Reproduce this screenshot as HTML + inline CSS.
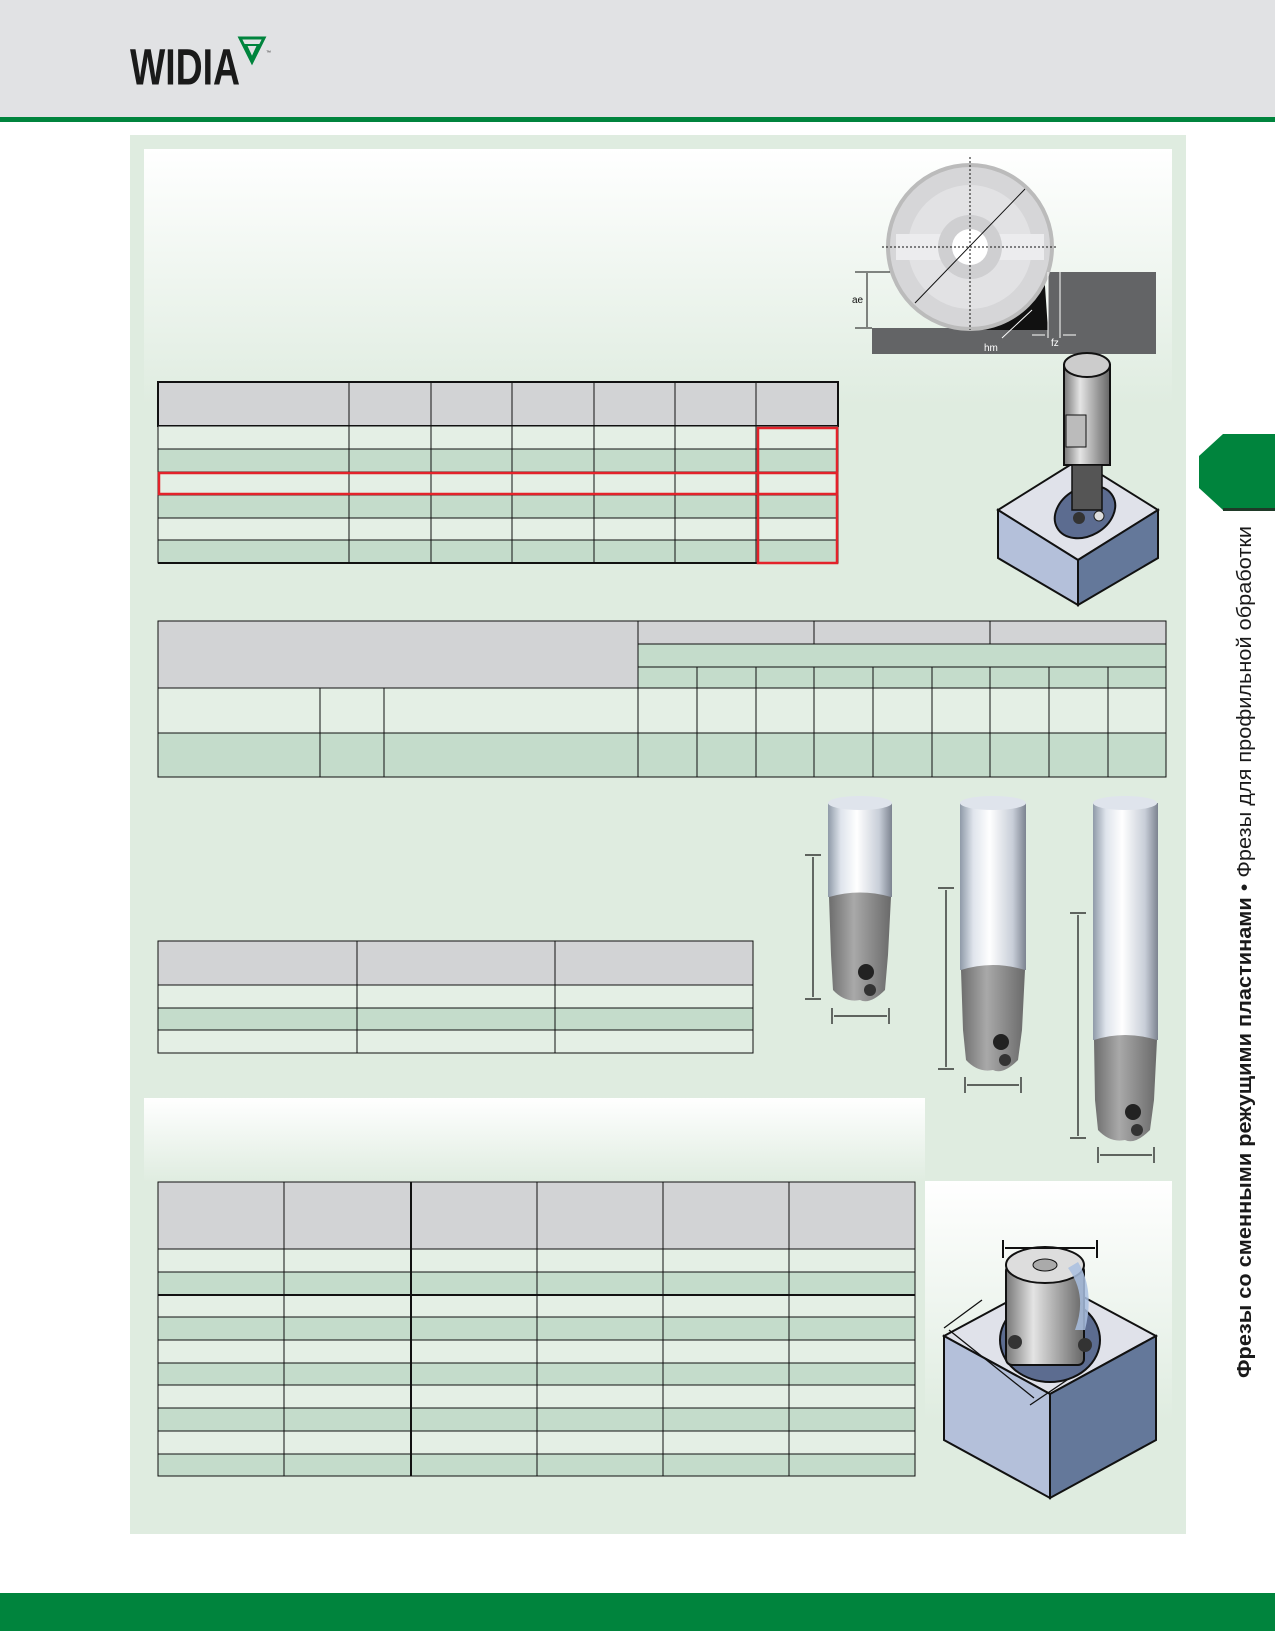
<!DOCTYPE html>
<html><head><meta charset="utf-8"><style>
html,body{margin:0;padding:0;background:#fff;}
svg{display:block;font-family:"Liberation Sans",sans-serif;}
</style></head><body>
<svg width="1275" height="1631" viewBox="0 0 1275 1631" xmlns="http://www.w3.org/2000/svg">
<defs>
<linearGradient id="wg" x1="0" y1="0" x2="0" y2="1"><stop offset="0" stop-color="#ffffff"/><stop offset="1" stop-color="#dfece0"/></linearGradient>
<linearGradient id="shank" x1="0" y1="0" x2="1" y2="0"><stop offset="0" stop-color="#8f9aa8"/><stop offset="0.2" stop-color="#dfe4ec"/><stop offset="0.45" stop-color="#ffffff"/><stop offset="0.8" stop-color="#c8ced8"/><stop offset="1" stop-color="#7c8390"/></linearGradient>
<linearGradient id="head" x1="0" y1="0" x2="1" y2="0"><stop offset="0" stop-color="#6d6d6d"/><stop offset="0.4" stop-color="#a9a9a9"/><stop offset="1" stop-color="#6a6a6a"/></linearGradient>
<linearGradient id="cyl" x1="0" y1="0" x2="1" y2="0"><stop offset="0" stop-color="#777"/><stop offset="0.35" stop-color="#e4e4e4"/><stop offset="1" stop-color="#666"/></linearGradient>
</defs>
<!-- header -->
<rect x="0" y="0" width="1275" height="118" fill="#e1e2e4"/>
<rect x="0" y="117" width="1275" height="5" fill="#00843d"/>
<text x="130" y="84" font-size="46" font-weight="bold" fill="#1a1a1a" textLength="110" lengthAdjust="spacingAndGlyphs" transform="translate(0,-8) scale(1,1.1)">WIDIA</text>
<polygon points="240,38 264,38 252,62" fill="none" stroke="#00843d" stroke-width="3"/>
<polygon points="246,45 258,45 252,58" fill="none" stroke="#00843d" stroke-width="2"/>
<text x="266" y="54" font-size="5" fill="#333">™</text>
<!-- main panel -->
<rect x="130" y="135" width="1056" height="1399" fill="#dfece0"/>
<rect x="144" y="149" width="1028" height="256" fill="url(#wg)"/>
<rect x="144" y="1098" width="781" height="84" fill="url(#wg)"/>
<rect x="925" y="1181" width="247" height="240" fill="url(#wg)"/>
<!-- bottom band -->
<rect x="0" y="1593" width="1275" height="38" fill="#00843d"/>
<!-- side tab -->
<path d="M1223,434 L1275,434 L1275,510 L1223,510 L1199,488 L1199,456 Z" fill="#00843d"/>
<rect x="1223" y="508" width="52" height="3" fill="#1f3a28"/>
<text transform="translate(1251,1378) rotate(-90)" font-size="20.5" fill="#1a1a1a" textLength="852" lengthAdjust="spacingAndGlyphs"><tspan font-weight="bold">Фрезы со сменными режущими пластинами</tspan> • Фрезы для профильной обработки</text>

<!-- disc diagram -->
<rect x="872" y="328" width="284" height="26" fill="#636466"/>
<rect x="1048" y="272" width="108" height="82" fill="#636466"/>
<path d="M1044,272 A82,82 0 0 1 976,330 L1048,330 Z" fill="#111"/>
<circle cx="970" cy="247" r="82" fill="#d6d6d8" stroke="#bbb" stroke-width="4"/>
<circle cx="970" cy="247" r="62" fill="#e2e2e4"/>
<rect x="896" y="234" width="148" height="26" fill="#ececee"/>
<circle cx="970" cy="247" r="32" fill="#cfcfd1"/>
<circle cx="970" cy="247" r="18" fill="#fff"/>
<line x1="970" y1="157" x2="970" y2="330" stroke="#111" stroke-dasharray="2,2"/>
<line x1="882" y1="247" x2="1058" y2="247" stroke="#111" stroke-dasharray="2,2"/>
<line x1="915" y1="303" x2="1025" y2="189" stroke="#111"/>
<line x1="855" y1="272" x2="890" y2="272" stroke="#111"/><line x1="855" y1="328" x2="872" y2="328" stroke="#111"/>
<line x1="867" y1="273" x2="867" y2="327" stroke="#111"/>
<text x="852" y="303" font-size="10" fill="#111">ae</text>
<line x1="1048" y1="272" x2="1048" y2="338" stroke="#fff"/><line x1="1060" y1="272" x2="1060" y2="338" stroke="#fff"/>
<line x1="1032" y1="335" x2="1045" y2="335" stroke="#fff"/><line x1="1063" y1="335" x2="1076" y2="335" stroke="#fff"/>
<text x="1051" y="346" font-size="10" fill="#fff">fz</text>
<line x1="1002" y1="338" x2="1032" y2="310" stroke="#fff"/>
<text x="984" y="351" font-size="10" fill="#fff">hm</text>

<!-- box 1 -->
<polygon points="998,510 1078,460 1158,510 1078,560" fill="#e0e2ea" stroke="#111" stroke-width="2"/>
<polygon points="998,510 1078,560 1078,605 998,558" fill="#b4c0da" stroke="#111" stroke-width="2"/>
<polygon points="1078,560 1158,510 1158,558 1078,605" fill="#64789a" stroke="#111" stroke-width="2"/>
<ellipse cx="1085" cy="512" rx="32" ry="24" transform="rotate(-30 1085 512)" fill="#5c6c90" stroke="#111" stroke-width="2"/>
<rect x="1064" y="365" width="46" height="100" fill="url(#cyl)" stroke="#111" stroke-width="2"/>
<rect x="1072" y="465" width="30" height="45" fill="#555" stroke="#111" stroke-width="1.5"/>
<ellipse cx="1087" cy="365" rx="23" ry="12" fill="#ccc" stroke="#111" stroke-width="2"/>
<rect x="1066" y="415" width="20" height="32" fill="#bbb" stroke="#111"/>
<circle cx="1079" cy="518" r="6" fill="#333"/><circle cx="1099" cy="516" r="5" fill="#ddd" stroke="#222"/>

<!-- table 1 -->
<g stroke="#111" stroke-width="1">
<rect x="158" y="382" width="680" height="44" fill="#d2d3d5" stroke-width="2"/>
<rect x="158" y="426" width="680" height="23" fill="#e4efe5"/>
<rect x="158" y="449" width="680" height="23" fill="#c4dccb"/>
<rect x="158" y="472" width="680" height="23" fill="#e4efe5"/>
<rect x="158" y="495" width="680" height="23" fill="#c4dccb"/>
<rect x="158" y="518" width="680" height="22" fill="#e4efe5"/>
<rect x="158" y="540" width="680" height="23" fill="#c4dccb"/>
<path d="M349,382V563M431,382V563M512,382V563M594,382V563M675,382V563M756,382V563" fill="none"/>
<line x1="158" y1="563" x2="838" y2="563" stroke-width="2"/>
</g>
<rect x="758" y="428" width="79" height="135" fill="none" stroke="#e3222a" stroke-width="2.5"/>
<rect x="159" y="473" width="678" height="21" fill="none" stroke="#e3222a" stroke-width="2.5"/>

<!-- table 2 -->
<g stroke="#111" stroke-width="1">
<rect x="158" y="621" width="480" height="67" fill="#d2d3d5"/>
<rect x="638" y="621" width="528" height="23" fill="#d2d3d5"/>
<rect x="638" y="644" width="528" height="23" fill="#c4dccb"/>
<rect x="638" y="667" width="528" height="21" fill="#c4dccb"/>
<rect x="158" y="688" width="1008" height="45" fill="#e4efe5"/>
<rect x="158" y="733" width="1008" height="44" fill="#c4dccb"/>
<path d="M814,621V644M990,621V644M638,688V777M697,667V777M756,667V777M814,667V777M873,667V777M932,667V777M990,667V777M1049,667V777M1108,667V777M320,688V777M384,688V777" fill="none"/>
</g>

<!-- end mills -->
<g>
<rect x="828" y="803" width="64" height="94" fill="url(#shank)"/>
<ellipse cx="860" cy="803" rx="32" ry="7" fill="#dfe4ec"/>
<path d="M829,897 Q860,888 891,897 L888,955 L885,990 Q870,1005 860,1000 Q845,1003 833,990 L831,955 Z" fill="url(#head)"/>
<circle cx="866" cy="972" r="8" fill="#222"/><circle cx="870" cy="990" r="6" fill="#333"/>
<rect x="960" y="803" width="66" height="167" fill="url(#shank)"/>
<ellipse cx="993" cy="803" rx="33" ry="7" fill="#dfe4ec"/>
<path d="M961,970 Q993,960 1025,970 L1022,1030 L1018,1060 Q1003,1075 993,1070 Q978,1073 966,1060 L963,1030 Z" fill="url(#head)"/>
<circle cx="1001" cy="1042" r="8" fill="#222"/><circle cx="1005" cy="1060" r="6" fill="#333"/>
<rect x="1093" y="803" width="65" height="237" fill="url(#shank)"/>
<ellipse cx="1125" cy="803" rx="32" ry="7" fill="#dfe4ec"/>
<path d="M1094,1040 Q1125,1030 1157,1040 L1154,1100 L1150,1130 Q1135,1145 1125,1140 Q1110,1143 1098,1130 L1095,1100 Z" fill="url(#head)"/>
<circle cx="1133" cy="1112" r="8" fill="#222"/><circle cx="1137" cy="1130" r="6" fill="#333"/>
</g>
<g stroke="#111" stroke-width="1.2" fill="#111">
<path d="M805,855H821M805,999H821M813,857V997M832,1008V1024M889,1008V1024M834,1016H887" fill="none"/>
<path d="M938,888H954M938,1069H954M946,890V1067M965,1077V1093M1021,1077V1093M967,1085H1019" fill="none"/>
<path d="M1070,913H1086M1070,1138H1086M1078,915V1136M1098,1147V1163M1154,1147V1163M1100,1155H1152" fill="none"/>
</g>

<!-- table 3 -->
<g stroke="#111" stroke-width="1">
<rect x="158" y="941" width="595" height="44" fill="#d2d3d5"/>
<rect x="158" y="985" width="595" height="23" fill="#e4efe5"/>
<rect x="158" y="1008" width="595" height="22" fill="#c4dccb"/>
<rect x="158" y="1030" width="595" height="23" fill="#e4efe5"/>
<path d="M357,941V1053M555,941V1053" fill="none"/>
</g>

<!-- table 4 -->
<g stroke="#111" stroke-width="1">
<rect x="158" y="1182" width="757" height="67" fill="#d2d3d5"/>
<rect x="158" y="1249" width="757" height="23" fill="#e4efe5"/>
<rect x="158" y="1272" width="757" height="23" fill="#c4dccb"/>
<rect x="158" y="1295" width="757" height="22" fill="#e4efe5"/>
<rect x="158" y="1317" width="757" height="23" fill="#c4dccb"/>
<rect x="158" y="1340" width="757" height="23" fill="#e4efe5"/>
<rect x="158" y="1363" width="757" height="22" fill="#c4dccb"/>
<rect x="158" y="1385" width="757" height="23" fill="#e4efe5"/>
<rect x="158" y="1408" width="757" height="23" fill="#c4dccb"/>
<rect x="158" y="1431" width="757" height="23" fill="#e4efe5"/>
<rect x="158" y="1454" width="757" height="22" fill="#c4dccb"/>
<path d="M284,1182V1476M537,1182V1476M663,1182V1476M789,1182V1476" fill="none"/>
<path d="M411,1182V1476" fill="none" stroke-width="2"/>
<line x1="158" y1="1295" x2="915" y2="1295" stroke-width="2"/>
</g>

<!-- box 2 -->
<polygon points="944,1336 1050,1279 1156,1336 1050,1394" fill="#e0e2ea" stroke="#111" stroke-width="2"/>
<polygon points="944,1336 1050,1394 1050,1498 944,1440" fill="#b4c0da" stroke="#111" stroke-width="2"/>
<polygon points="1050,1394 1156,1336 1156,1440 1050,1498" fill="#64789a" stroke="#111" stroke-width="2"/>
<ellipse cx="1050" cy="1340" rx="50" ry="42" fill="#5c6c90" stroke="#111" stroke-width="2"/>
<rect x="1006" y="1265" width="78" height="100" rx="6" fill="url(#cyl)" stroke="#111" stroke-width="2"/>
<ellipse cx="1045" cy="1265" rx="39" ry="18" fill="#ddd" stroke="#111" stroke-width="2"/>
<ellipse cx="1045" cy="1265" rx="12" ry="6" fill="#aaa" stroke="#111"/>
<path d="M1078,1262 Q1095,1290 1085,1330 L1075,1330 Q1088,1295 1068,1268 Z" fill="#a9c0e0" opacity="0.85"/>
<circle cx="1015" cy="1342" r="7" fill="#333"/><circle cx="1085" cy="1345" r="7" fill="#333"/>
<g stroke="#111" stroke-width="2" fill="none">
<path d="M1003,1240V1258M1097,1240V1258M1005,1248H1095"/>
<path d="M944,1328L982,1300M1030,1405L1070,1378M949,1330L1034,1398" stroke-width="1.3"/>
</g>
</svg>
</body></html>
